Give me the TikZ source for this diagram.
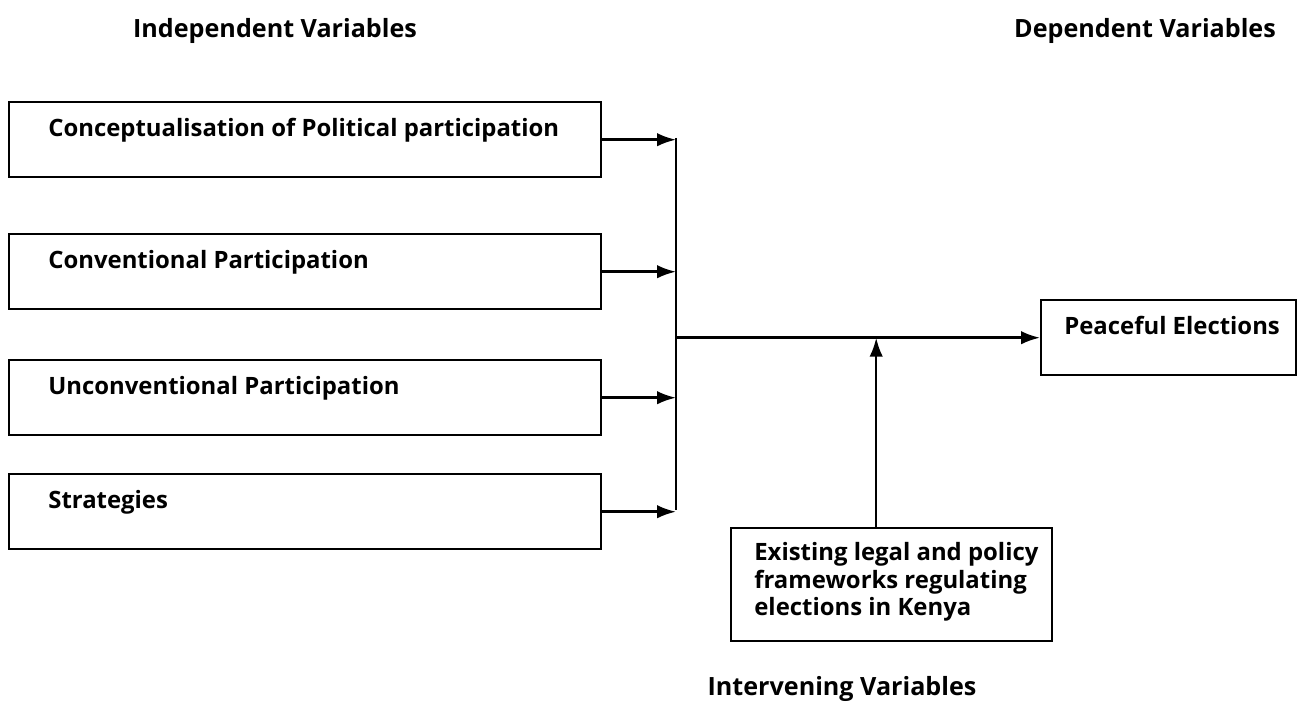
\documentclass[tikz,border=0pt]{standalone}
\usepackage{fontspec}
\setmainfont{Open Sans}
\usetikzlibrary{arrows.meta}

\tikzset{
	varbox/.style={draw, line width=1.4pt, anchor=north west, inner sep=0pt, minimum height=1.5cm},
	vartext/.style={anchor=base west, inner sep=0pt, align=left, font=\fontsize{13.6}{15.9}\selectfont\bfseries},
	headtext/.style={anchor=base, inner sep=0pt, font=\fontsize{14.3}{16}\selectfont\bfseries},
	flow/.style={line width=1.4pt, -{Latex[length=0.38cm,width=0.27cm]}},
}

\begin{document}
\begin{tikzpicture}[x=0.02cm, y=-0.02cm]
		\useasboundingbox (0,0) rectangle (1298,702);
		
		\node[headtext] (indep) at (275,38) {Independent Variables};
		\node[headtext] (dep) at (1145,38) {Dependent Variables};
		\node[headtext] (interv) at (842,695) {Intervening Variables};
		
		\node[varbox, minimum width=11.84cm] (concept) at (8,101) {};
		\node[varbox, minimum width=11.84cm] (conv) at (8,233) {};
		\node[varbox, minimum width=11.84cm] (unconv) at (8,359) {};
		\node[varbox, minimum width=11.84cm] (strat) at (8,473) {};
		\node[varbox, minimum width=5.1cm] (peace) at (1040,299) {};
		\node[varbox, minimum width=6.42cm, minimum height=2.26cm] (frame) at (730,527) {};
		
		\node[vartext] (concepttxt) at ([shift={(0.8cm,-0.71cm)}]concept.north west) {Conceptualisation of Political participation};
		\node[vartext] (convtxt) at ([shift={(0.8cm,-0.71cm)}]conv.north west) {Conventional Participation};
		\node[vartext] (unconvtxt) at ([shift={(0.8cm,-0.71cm)}]unconv.north west) {Unconventional Participation};
		\node[vartext] (strattxt) at ([shift={(0.8cm,-0.71cm)}]strat.north west) {Strategies};
		\node[vartext] (peacetxt) at ([shift={(0.48cm,-0.71cm)}]peace.north west) {Peaceful Elections};
		\node[vartext] (frametxt) at ([shift={(0.48cm,-1.78cm)}]frame.north west) {Existing legal and policy\\frameworks regulating\\elections in Kenya};
		
		\coordinate (bus) at (676,138);
		\coordinate (busend) at (676,510);
		
		\draw[flow] (concept.east) -- (concept.east -| bus);
		\draw[flow] (conv.east) -- (conv.east -| bus);
		\draw[flow] (unconv.east) -- (unconv.east -| bus);
		\draw[flow] (strat.east) -- (strat.east -| bus);
		\draw[line width=1.4pt] (bus) -- (busend);
		\draw[flow] (peace.west -| bus) -- (peace.west);
		\draw[flow] ([xshift=-0.31cm]frame.north) -- ([xshift=-0.31cm]frame.north |- peace.west);
	\end{tikzpicture}
\end{document}
